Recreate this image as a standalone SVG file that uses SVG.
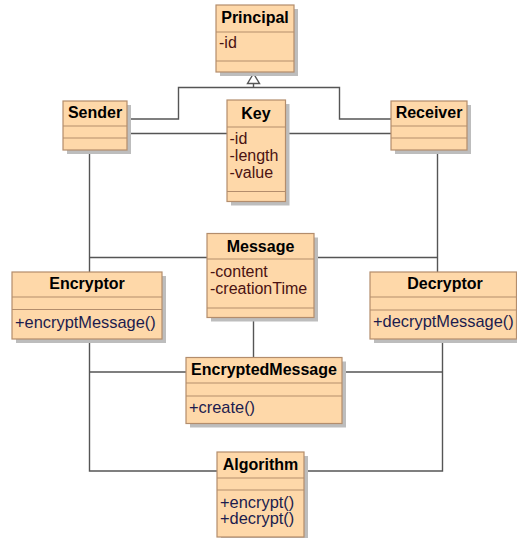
<svg xmlns="http://www.w3.org/2000/svg" width="517" height="538" viewBox="0 0 517 538">
<style>
.sh{fill:#bdbdbd}
.bx{fill:#fed8a9;stroke:#b38d6c;stroke-width:1.2}
.dv{stroke:#b38d6c;stroke-width:1.2}
.nm{font-family:"Liberation Sans",Arial,sans-serif;font-size:16px;font-weight:bold;fill:#000;text-anchor:middle}
.at{font-family:"Liberation Sans",Arial,sans-serif;font-size:16px;fill:#4a1212}
.op{font-family:"Liberation Sans",Arial,sans-serif;font-size:16.4px;fill:#1c1c4e}
.ln{fill:none;stroke:#555;stroke-width:1.4}
</style>
<rect width="517" height="538" fill="#fff"/>
<g id="connectors">
<path class="ln" d="M127,119 H178.5 V87.5 H339.5 V119 H391"/>
<path class="ln" d="M253.5,87.5 V83.5"/>
<polygon points="253.5,73.5 247.5,83.5 259.5,83.5" fill="#fff" stroke="#555" stroke-width="1.4"/>
<path class="ln" d="M127,133.5 H227"/>
<path class="ln" d="M285.5,133.5 H391"/>
<path class="ln" d="M89.5,150 V272"/>
<path class="ln" d="M437.5,150 V272"/>
<path class="ln" d="M89.5,257.5 H207"/>
<path class="ln" d="M314,257.5 H437.5"/>
<path class="ln" d="M253.5,317.5 V357.5"/>
<path class="ln" d="M89.5,339 V471 H217"/>
<path class="ln" d="M89.5,372 H186"/>
<path class="ln" d="M442.5,339 V471 H304"/>
<path class="ln" d="M342,372 H442.5"/>
</g>
<g id="Principal">
<rect class="sh" x="220" y="9" width="78" height="67"/>
<rect class="bx" x="216" y="5" width="78" height="67"/>
<line class="dv" x1="216" y1="32" x2="294" y2="32"/>
<line class="dv" x1="216" y1="61" x2="294" y2="61"/>
<text class="nm" x="255" y="23">Principal</text>
<text class="at" x="219" y="47.5">-id</text>
</g>
<g id="Sender">
<rect class="sh" x="67" y="105" width="64" height="49"/>
<rect class="bx" x="63" y="101" width="64" height="49"/>
<line class="dv" x1="63" y1="126" x2="127" y2="126"/>
<line class="dv" x1="63" y1="138" x2="127" y2="138"/>
<text class="nm" x="95" y="118">Sender</text>
</g>
<g id="Key">
<rect class="sh" x="231" y="104" width="58.5" height="101.5"/>
<rect class="bx" x="227" y="100" width="58.5" height="101.5"/>
<line class="dv" x1="227" y1="127" x2="285.5" y2="127"/>
<line class="dv" x1="227" y1="191.5" x2="285.5" y2="191.5"/>
<text class="nm" x="256" y="119">Key</text>
<text class="at" x="229.5" y="144">-id</text>
<text class="at" x="229.5" y="161">-length</text>
<text class="at" x="229.5" y="178">-value</text>
</g>
<g id="Receiver">
<rect class="sh" x="395" y="105" width="76" height="49"/>
<rect class="bx" x="391" y="101" width="76" height="49"/>
<line class="dv" x1="391" y1="126" x2="467" y2="126"/>
<line class="dv" x1="391" y1="138" x2="467" y2="138"/>
<text class="nm" x="429" y="118">Receiver</text>
</g>
<g id="Message">
<rect class="sh" x="211" y="237.5" width="107" height="84"/>
<rect class="bx" x="207" y="233.5" width="107" height="84"/>
<line class="dv" x1="207" y1="259" x2="314" y2="259"/>
<line class="dv" x1="207" y1="308" x2="314" y2="308"/>
<text class="nm" x="260.5" y="251.5">Message</text>
<text class="at" x="210" y="277">-content</text>
<text class="at" x="210" y="294">-creationTime</text>
</g>
<g id="Encryptor">
<rect class="sh" x="16" y="276" width="150" height="67"/>
<rect class="bx" x="12" y="272" width="150" height="67"/>
<line class="dv" x1="12" y1="297" x2="162" y2="297"/>
<line class="dv" x1="12" y1="309.5" x2="162" y2="309.5"/>
<text class="nm" x="87" y="289">Encryptor</text>
<text class="op" x="15" y="327.5">+encryptMessage()</text>
</g>
<g id="Decryptor">
<rect class="sh" x="374" y="276" width="147" height="67"/>
<rect class="bx" x="370" y="272" width="146.5" height="67"/>
<line class="dv" x1="370" y1="297" x2="516.5" y2="297"/>
<line class="dv" x1="370" y1="310" x2="516.5" y2="310"/>
<text class="nm" x="445" y="289">Decryptor</text>
<text class="op" x="373" y="327">+decryptMessage()</text>
</g>
<g id="EncryptedMessage">
<rect class="sh" x="190" y="361.5" width="156" height="66"/>
<rect class="bx" x="186" y="357.5" width="156" height="66"/>
<line class="dv" x1="186" y1="383" x2="342" y2="383"/>
<line class="dv" x1="186" y1="396" x2="342" y2="396"/>
<text class="nm" x="264" y="375">EncryptedMessage</text>
<text class="op" x="189" y="412.5">+create()</text>
</g>
<g id="Algorithm">
<rect class="sh" x="221" y="456" width="87" height="85"/>
<rect class="bx" x="217" y="452" width="87" height="85"/>
<line class="dv" x1="217" y1="478" x2="304" y2="478"/>
<line class="dv" x1="217" y1="490" x2="304" y2="490"/>
<text class="nm" x="260.5" y="469.5">Algorithm</text>
<text class="op" x="220" y="507.5">+encrypt()</text>
<text class="op" x="220" y="524">+decrypt()</text>
</g>
</svg>
